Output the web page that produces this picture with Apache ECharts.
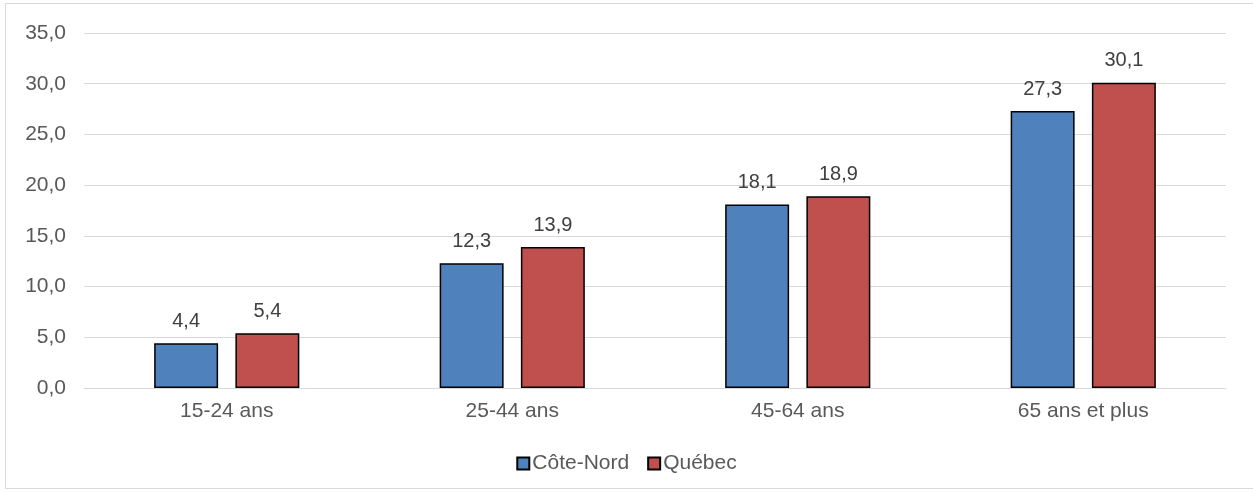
<!DOCTYPE html>
<html>
<head>
<meta charset="utf-8">
<script src="https://cdn.jsdelivr.net/npm/echarts@6/dist/echarts.min.js"></script>
<style>
  html, body { margin: 0; padding: 0; background: #fff; }
  #main { width: 1253px; height: 492px; }
  .frame { position: absolute; left: 5px; top: 3px; width: 1250px; height: 486px; border: 1px solid #d9d9d9; box-sizing: border-box; pointer-events: none; }
</style>
</head>
<body>
<div id="main"></div>
<div class="frame"></div>
<script>
// catégories et valeurs
var categories = ['15-24 ans', '25-44 ans', '45-64 ans', '65 ans et plus'];
var coteNord = [4.4, 12.3, 18.1, 27.3];
var quebec = [5.4, 13.9, 18.9, 30.1];

var myChart = echarts.init(document.getElementById('main'));

function fmt(v) { return v.toFixed(1).replace('.', ','); }

var labelStyle = {
    show: true,
    position: 'top',
    distance: 12,
    color: '#404040',
    fontSize: 20,
    fontFamily: 'Liberation Sans, Arial, sans-serif',
    formatter: function (p) { return fmt(p.value); }
};

myChart.setOption({
    animation: false,
    textStyle: { fontFamily: 'Liberation Sans, Arial, sans-serif' },
    grid: { left: 84, right: 27, top: 33, bottom: 104 },
    legend: {
        bottom: 13,
        left: 'center',
        itemWidth: 12,
        itemHeight: 12,
        itemGap: 18,
        icon: 'rect',
        textStyle: { color: '#595959', fontSize: 21, padding: [0, 0, 0, -2] },
        data: ['Côte-Nord', 'Québec']
    },
    xAxis: {
        type: 'category',
        data: categories,
        axisLine: { lineStyle: { color: '#d9d9d9', width: 1 } },
        axisTick: { show: false },
        axisLabel: { color: '#595959', fontSize: 21, margin: 13 }
    },
    yAxis: {
        type: 'value',
        min: 0,
        max: 35,
        interval: 5,
        axisLine: { show: false },
        axisTick: { show: false },
        splitLine: { lineStyle: { color: '#d9d9d9', width: 1 } },
        axisLabel: { color: '#595959', fontSize: 21, margin: 18, formatter: fmt }
    },
    series: [
        {
            name: 'Côte-Nord',
            type: 'bar',
            data: coteNord,
            barWidth: '22.4%',
            barGap: '27%',
            itemStyle: { color: '#4F81BD', borderColor: '#000', borderWidth: 1.5 },
            label: labelStyle
        },
        {
            name: 'Québec',
            type: 'bar',
            data: quebec,
            barWidth: '22.4%',
            itemStyle: { color: '#C0504D', borderColor: '#000', borderWidth: 1.5 },
            label: labelStyle
        }
    ]
});
</script>
</body>
</html>
